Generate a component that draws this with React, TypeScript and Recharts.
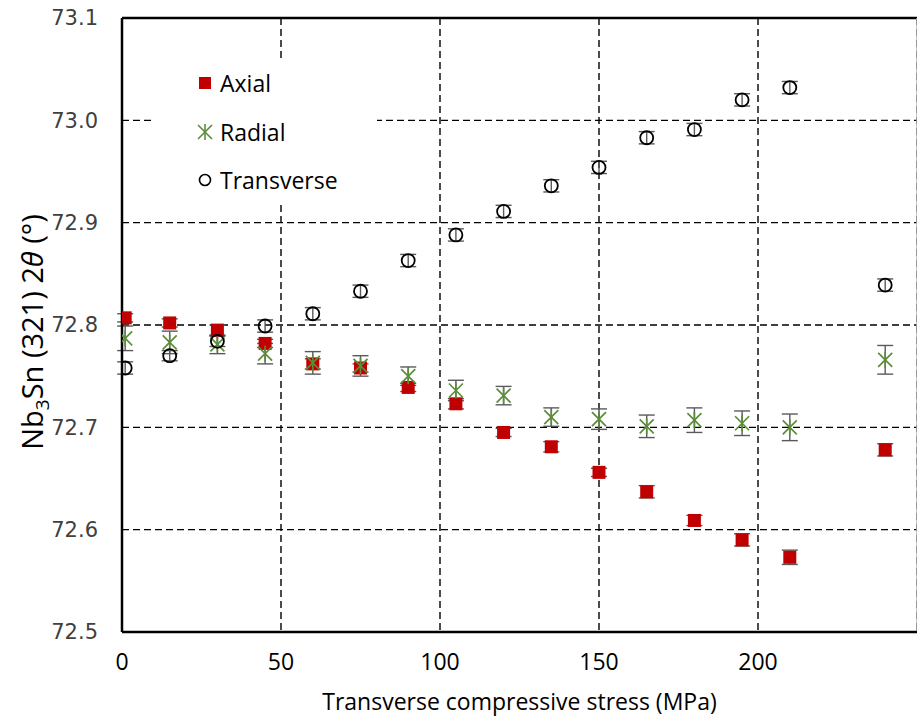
import React from 'react';
import { ScatterChart, Scatter, XAxis, YAxis, CartesianGrid, ErrorBar, ReferenceLine } from 'recharts';

const stress = [1, 15, 30, 45, 60, 75, 90, 105, 120, 135, 150, 165, 180, 195, 210, 240];
const axial = [72.807, 72.802, 72.795, 72.782, 72.762, 72.758, 72.739, 72.723, 72.695, 72.681, 72.656, 72.637, 72.609, 72.590, 72.573, 72.678];
const axialErr = [0.004, 0.004, 0.005, 0.004, 0.005, 0.004, 0.004, 0.005, 0.004, 0.005, 0.004, 0.006, 0.005, 0.006, 0.007, 0.006];
const radial = [72.787, 72.783, 72.781, 72.772, 72.763, 72.760, 72.750, 72.736, 72.731, 72.710, 72.708, 72.701, 72.707, 72.704, 72.700, 72.766];
const radialErr = [0.012, 0.011, 0.009, 0.010, 0.011, 0.010, 0.009, 0.010, 0.009, 0.009, 0.010, 0.011, 0.012, 0.012, 0.013, 0.014];
const transverse = [72.758, 72.770, 72.784, 72.799, 72.811, 72.833, 72.863, 72.888, 72.911, 72.936, 72.954, 72.983, 72.991, 73.020, 73.032, 72.839];
const transverseErr = [0.006, 0.005, 0.005, 0.006, 0.006, 0.006, 0.006, 0.006, 0.006, 0.006, 0.006, 0.006, 0.006, 0.006, 0.006, 0.006];

const xTicks = [0, 50, 100, 150, 200];
const yTicks = [72.5, 72.6, 72.7, 72.8, 72.9, 73.0, 73.1];
const xDomain = [0, 250];
const yDomain = [72.5, 73.1];
const seriesNames = ['Axial', 'Radial', 'Transverse'];

const build = (ys: number[], errs: number[]) => stress.map((x, i) => ({ x, y: ys[i], err: errs[i] }));
const axialData = build(axial, axialErr);
const radialData = build(radial, radialErr);
const transverseData = build(transverse, transverseErr);

const RED = '#C00000';
const GREEN = '#5B8C3A';
const LABEL_FONT = "'Open Sans', sans-serif";

const SquareShape = (props: any) => {
  const { cx, cy } = props;
  if (cx == null || cy == null) return null;
  return <rect x={cx - 6.5} y={cy - 6.5} width={13} height={13} fill={RED} />;
};
const AsteriskShape = (props: any) => {
  const { cx, cy } = props;
  if (cx == null || cy == null) return null;
  return (
    <g stroke={GREEN} strokeWidth={1.7} fill="none">
      <line x1={cx - 7} y1={cy - 7} x2={cx + 7} y2={cy + 7} />
      <line x1={cx - 7} y1={cy + 7} x2={cx + 7} y2={cy - 7} />
      <line x1={cx} y1={cy - 8} x2={cx} y2={cy + 8} />
    </g>
  );
};
const CircleShape = (props: any) => {
  const { cx, cy } = props;
  if (cx == null || cy == null) return null;
  return <circle cx={cx} cy={cy} r={6.5} fill="none" stroke="#000" strokeWidth={1.8} />;
};

const YTitle = (props: any) => {
  const vb = props.viewBox || { x: 0, y: 18, width: 122, height: 614 };
  const cx = 43;
  const cy = vb.y + vb.height / 2 + 7;
  return (
    <text transform={`translate(${cx},${cy}) rotate(-90)`} textAnchor="middle" fontFamily={LABEL_FONT} fontSize={29} fill="#000">
      Nb<tspan fontSize={19} dy={6}>3</tspan>
      <tspan dy={-6}>Sn (321) 2</tspan>
      <tspan fontStyle="italic">θ</tspan> (°)
    </text>
  );
};
const XTitle = (props: any) => {
  const vb = props.viewBox || { x: 122, y: 632, width: 795, height: 86 };
  return (
    <text x={vb.x + vb.width / 2} y={vb.y + 78} textAnchor="middle" fontFamily={LABEL_FONT} fontSize={23} fill="#000">
      Transverse compressive stress (MPa)
    </text>
  );
};

const LegendOverlay = () => (
  <div style={{ position: 'absolute', left: 152, top: 58, width: 225, height: 147, background: '#fff' }}>
    {seriesNames.map((name, i) => (
      <div key={name} style={{ position: 'absolute', left: 40, top: 10 + i * 48.5, height: 30, display: 'flex', alignItems: 'center' }}>
        <svg width={26} height={30} style={{ display: 'block' }}>
          {i === 0 && <rect x={7} y={9} width={12} height={12} fill={RED} />}
          {i === 1 && (
            <g stroke={GREEN} strokeWidth={1.6}>
              <line x1={6} y1={8} x2={20} y2={22} />
              <line x1={6} y1={22} x2={20} y2={8} />
              <line x1={13} y1={7} x2={13} y2={23} />
            </g>
          )}
          {i === 2 && <circle cx={13} cy={15} r={5.5} fill="none" stroke="#000" strokeWidth={1.6} />}
        </svg>
        <span style={{ fontFamily: LABEL_FONT, fontSize: 23, color: '#000', marginLeft: 2, lineHeight: '30px' }}>{name}</span>
      </div>
    ))}
  </div>
);

export default function App() {
  return (
    <div style={{ position: 'absolute', left: 0, top: 0, width: 917, height: 718, background: '#fff' }}>
      <ScatterChart width={917} height={718} margin={{ top: 18, right: 0, bottom: 0, left: 0 }}>
        <CartesianGrid stroke="#000" strokeWidth={1.4} strokeDasharray="7 4" />
        <XAxis
          type="number"
          dataKey="x"
          domain={xDomain}
          ticks={xTicks}
          allowDataOverflow
          height={86}
          tickLine={false}
          axisLine={{ stroke: '#000', strokeWidth: 2.5 }}
          tick={{ fontFamily: LABEL_FONT, fontSize: 23, fill: '#000' }}
          tickMargin={16}
          label={<XTitle />}
        />
        <YAxis
          type="number"
          dataKey="y"
          domain={yDomain}
          ticks={yTicks}
          allowDataOverflow
          width={122}
          tickLine={false}
          axisLine={{ stroke: '#000', strokeWidth: 2.5 }}
          tick={{ fontFamily: "'DejaVu Sans', sans-serif", fontSize: 21, fill: '#404040' }}
          tickFormatter={(v: number) => v.toFixed(1)}
          tickMargin={18}
          label={<YTitle />}
        />
        <ReferenceLine y={yDomain[1]} stroke="#000" strokeWidth={2.5} />
        <ReferenceLine x={xDomain[1]} stroke="#b0b0b0" strokeWidth={1.5} />
        <Scatter name="Axial" data={axialData} dataKey="y" shape={<SquareShape />} isAnimationActive={false}>
          <ErrorBar dataKey="err" direction="y" width={8} stroke="#5a5a5a" strokeWidth={1.4} isAnimationActive={false} />
        </Scatter>
        <Scatter name="Radial" data={radialData} dataKey="y" shape={<AsteriskShape />} isAnimationActive={false}>
          <ErrorBar dataKey="err" direction="y" width={8} stroke="#5a5a5a" strokeWidth={1.4} isAnimationActive={false} />
        </Scatter>
        <Scatter name="Transverse" data={transverseData} dataKey="y" shape={<CircleShape />} isAnimationActive={false}>
          <ErrorBar dataKey="err" direction="y" width={8} stroke="#5a5a5a" strokeWidth={1.4} isAnimationActive={false} />
        </Scatter>
      </ScatterChart>
      <LegendOverlay />
    </div>
  );
}
